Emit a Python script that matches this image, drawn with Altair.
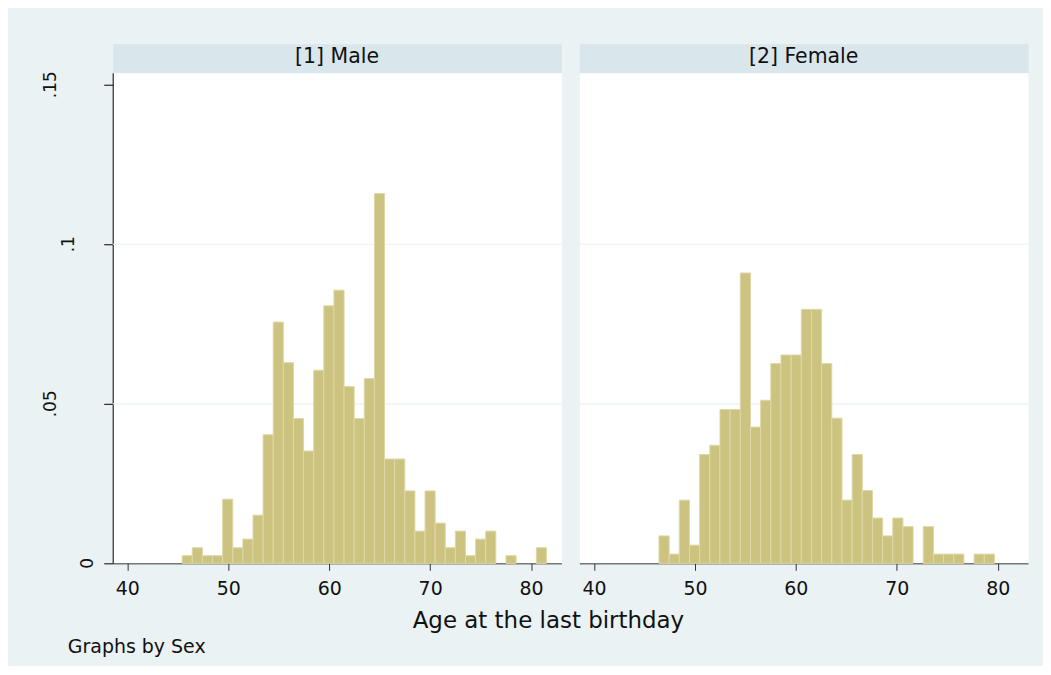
import altair as alt
import pandas as pd

FONT = "DejaVu Sans"

# ---------------- data ----------------
sexes = ["Male", "Female"]
header_labels = ["[1] Male", "[2] Female"]

male_bin_start = 45.43
male_bin_width = 1.0025
male_density = [0.0024, 0.0049, 0.0024, 0.0024, 0.0201, 0.0049, 0.0076, 0.0151, 0.0403, 0.0756,
                0.0629, 0.0454, 0.0352, 0.0605, 0.0807, 0.0856, 0.0554, 0.0454, 0.0579, 0.1159,
                0.0327, 0.0327, 0.0227, 0.0101, 0.0227, 0.0126, 0.0049, 0.0101, 0.0024, 0.0076,
                0.0101, 0.0, 0.0024, 0.0, 0.0, 0.0049]

female_bin_start = 46.44
female_bin_width = 1.007
female_density = [0.0086, 0.0029, 0.0198, 0.0057, 0.0341, 0.0370, 0.0482, 0.0482, 0.0910, 0.0427,
                  0.0511, 0.0626, 0.0653, 0.0653, 0.0796, 0.0796, 0.0626, 0.0455, 0.0198, 0.0341,
                  0.0228, 0.0142, 0.0086, 0.0142, 0.0115, 0.0, 0.0115, 0.0029, 0.0029, 0.0029,
                  0.0, 0.0029, 0.0029]

x_ticks = [40, 50, 60, 70, 80]
y_ticks = [0, 0.05, 0.1, 0.15]
y_tick_labels = ["0", ".05", ".1", ".15"]
grid_values = [0.05, 0.1]
x_domain = [38.55, 83.0]
y_domain = [0, 0.15375]

x_title = "Age at the last birthday"
note = "Graphs by Sex"

# ---------------- tables ----------------
rows = []
for sex, start, width, dens in [("Male", male_bin_start, male_bin_width, male_density),
                                ("Female", female_bin_start, female_bin_width, female_density)]:
    for i, d in enumerate(dens):
        if d > 0:
            rows.append({"sex": sex, "lo": start + i * width, "hi": start + (i + 1) * width, "density": d})
hist_df = pd.DataFrame(rows)
grid_df = pd.DataFrame({"v": grid_values})
ylab_df = pd.DataFrame({"v": y_ticks, "label": y_tick_labels})

BG = "#EAF2F3"
HEADER_BG = "#D9E6EB"
BAR_FILL = "#CBC37F"
BAR_EDGE = "#DFD8A6"

xscale = alt.Scale(domain=x_domain, nice=False, zero=False)
yscale = alt.Scale(domain=y_domain, nice=False, zero=False)


def hist_panel(sex, show_y):
    d = hist_df[hist_df["sex"] == sex]
    xaxis = alt.Axis(values=x_ticks, title=None, grid=False, domainColor="#333333",
                     tickColor="#333333", tickSize=7, labelFontSize=19, labelPadding=9,
                     labelColor="#111111", labelFont=FONT, labelFlush=False)
    if show_y:
        yaxis = alt.Axis(values=y_ticks, labels=False, title=None, grid=False,
                         domainColor="#000000", tickColor="#000000", tickSize=9)
    else:
        yaxis = None
    grid = alt.Chart(grid_df).mark_rule(color=BG, strokeWidth=1.2).encode(
        y=alt.Y("v:Q", scale=yscale, axis=yaxis)
    )
    bars = alt.Chart(d).mark_rect(fill=BAR_FILL, stroke=BAR_EDGE, strokeWidth=1).encode(
        x=alt.X("lo:Q", scale=xscale, axis=xaxis),
        x2="hi:Q",
        y=alt.Y("density:Q", scale=yscale, axis=yaxis),
        y2=alt.datum(0),
    )
    layers = [grid, bars]
    if show_y:
        ylab = alt.Chart(ylab_df).transform_calculate(n="length(datum.label)").mark_text(
            angle=270, fontSize=17, font=FONT, color="#111111", align="center", baseline="middle"
        ).encode(
            x=alt.X("n:Q", scale=alt.Scale(domain=[1, 3], range=[-25, -62]), axis=None),
            y=alt.Y("v:Q", scale=yscale, axis=yaxis),
            text="label:N",
        )
        layers.append(ylab)
    chart = alt.layer(*layers)
    if show_y:
        chart = chart.resolve_scale(x="independent")
    return chart.properties(width=450, height=492,
                            view=alt.ViewBackground(fill="white", stroke="transparent"))


def header(label):
    return alt.Chart(pd.DataFrame({"t": [label]})).mark_text(
        fontSize=20.5, font=FONT, color="#111111", align="center", baseline="middle"
    ).encode(
        x=alt.value(225), y=alt.value(13.5), text="t:N"
    ).properties(width=450, height=29,
                 view=alt.ViewBackground(fill=HEADER_BG, stroke="transparent"))


male_col = alt.vconcat(header(header_labels[0]), hist_panel(sexes[0], True), spacing=0, bounds="flush")
female_col = alt.vconcat(header(header_labels[1]), hist_panel(sexes[1], False), spacing=0, bounds="flush")
panels = alt.hconcat(male_col, female_col, spacing=14)

footer_df = pd.DataFrame({"t": [x_title, note], "kind": ["title", "note"]})
footer_title = alt.Chart(footer_df).transform_filter(alt.datum.kind == "title").mark_text(
    fontSize=23, font=FONT, color="#111111", align="center", baseline="alphabetic"
).encode(x=alt.value(437), y=alt.value(27.5), text="t:N")
footer_note = alt.Chart(footer_df).transform_filter(alt.datum.kind == "note").mark_text(
    fontSize=19, font=FONT, color="#111111", align="left", baseline="alphabetic"
).encode(x=alt.value(-45), y=alt.value(52.5), text="t:N")
footer = alt.layer(footer_title, footer_note).properties(
    width=917, height=62, view=alt.ViewBackground(fill="transparent", stroke="transparent"))

chart = alt.vconcat(panels, footer, spacing=0).properties(
    padding={"left": 33, "top": 34, "right": 13, "bottom": 2}
).configure(background=BG, font=FONT)

chart.save("out.html", embed_options={"renderer": "svg", "actions": False})
